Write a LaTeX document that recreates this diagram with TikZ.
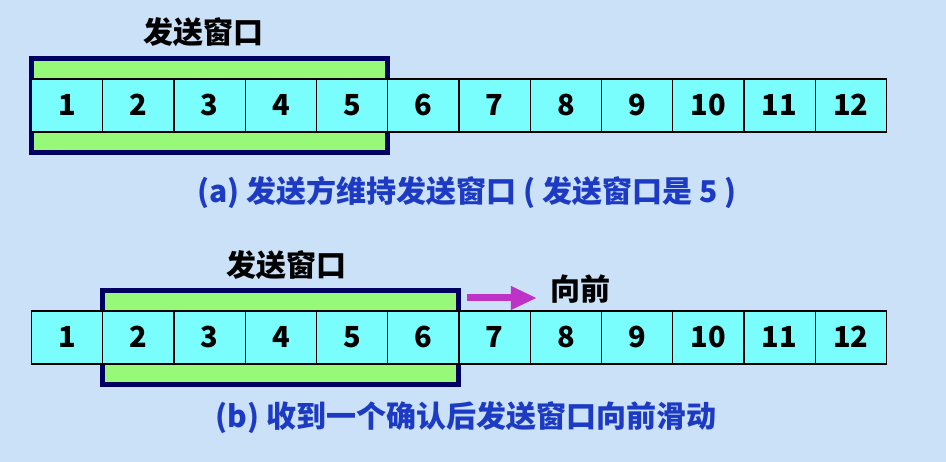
\documentclass[tikz,border=0pt]{standalone}
\usepackage{fontspec}
\setmainfont{Noto Sans CJK SC}[BoldFont={Noto Sans CJK SC Black}]
\usetikzlibrary{arrows.meta,positioning,calc,backgrounds}
\definecolor{winbg}{RGB}{202,225,247}
\definecolor{wincell}{RGB}{122,253,253}
\definecolor{wingreen}{RGB}{150,250,120}
\definecolor{winnavy}{RGB}{0,0,96}
\definecolor{winblue}{RGB}{28,58,196}
\definecolor{winmag}{RGB}{190,50,200}

\begin{document}
\begin{tikzpicture}[
  x=1pt, y=1pt,
  cell/.style={rectangle, draw=black, fill=wincell, line width=1.3pt,
               minimum width=71.25pt, minimum height=53pt,
               inner sep=0pt, outer sep=0pt, text height=21pt, text depth=0pt,
               font=\fontsize{29}{29}\selectfont\bfseries},
  window/.style={draw=winnavy, fill=wingreen, line width=5pt},
  title/.style={font=\fontsize{30}{30}\selectfont\bfseries},
  caption/.style={font=\fontsize{30}{30}\selectfont\bfseries, text=winblue},
  fwdarrow/.style={-{Triangle[length=26pt,width=22pt]}, line width=7pt, draw=winmag}
]
\useasboundingbox (0,0) rectangle (946,462);

% --- Row (a) ---
\node[cell] (a1) at (67.1,356.5) {1};
\node[cell, right=0pt of a1] (a2) {2};
\node[cell, right=0pt of a2] (a3) {3};
\node[cell, right=0pt of a3] (a4) {4};
\node[cell, right=0pt of a4] (a5) {5};
\node[cell, right=0pt of a5] (a6) {6};
\node[cell, right=0pt of a6] (a7) {7};
\node[cell, right=0pt of a7] (a8) {8};
\node[cell, right=0pt of a8] (a9) {9};
\node[cell, right=0pt of a9] (a10) {10};
\node[cell, right=0pt of a10] (a11) {11};
\node[cell, right=0pt of a11] (a12) {12};

% --- Row (b) ---
\node[cell] (b1) at (67.1,124.5) {1};
\node[cell, right=0pt of b1] (b2) {2};
\node[cell, right=0pt of b2] (b3) {3};
\node[cell, right=0pt of b3] (b4) {4};
\node[cell, right=0pt of b4] (b5) {5};
\node[cell, right=0pt of b5] (b6) {6};
\node[cell, right=0pt of b6] (b7) {7};
\node[cell, right=0pt of b7] (b8) {8};
\node[cell, right=0pt of b8] (b9) {9};
\node[cell, right=0pt of b9] (b10) {10};
\node[cell, right=0pt of b10] (b11) {11};
\node[cell, right=0pt of b11] (b12) {12};

% --- Windows ---
\begin{scope}[on background layer]
  \fill[winbg] (0,0) rectangle (946,462);
  \draw[window] ([yshift=20.5pt]a1.north west) rectangle ([yshift=-20.5pt]a5.south east);
  \draw[window] ([yshift=20.5pt]b2.north west) rectangle ([yshift=-20.5pt]b6.south east);
\end{scope}

% --- Labels ---
\node[title] (ta) at ($(a1.north west)!0.5!(a5.north east) + (-6,47)$) {发送窗口};
\node[title] (tb) at ($(b2.north west)!0.5!(b6.north east) + (6,46)$) {发送窗口};
\coordinate (fwd) at ([shift={(8,13)}]b6.north east);
\node[title, anchor=west] (qx) at ([shift={(88,22)}]b6.north east) {向前};
\draw[fwdarrow] (fwd) -- ++(70,0);

\node[caption] (ca) at (467,269) {(a) 发送方维持发送窗口 ( 发送窗口是 5 )};
\node[caption] (cb) at (466,44) {(b) 收到一个确认后发送窗口向前滑动};

\end{tikzpicture}
\end{document}
